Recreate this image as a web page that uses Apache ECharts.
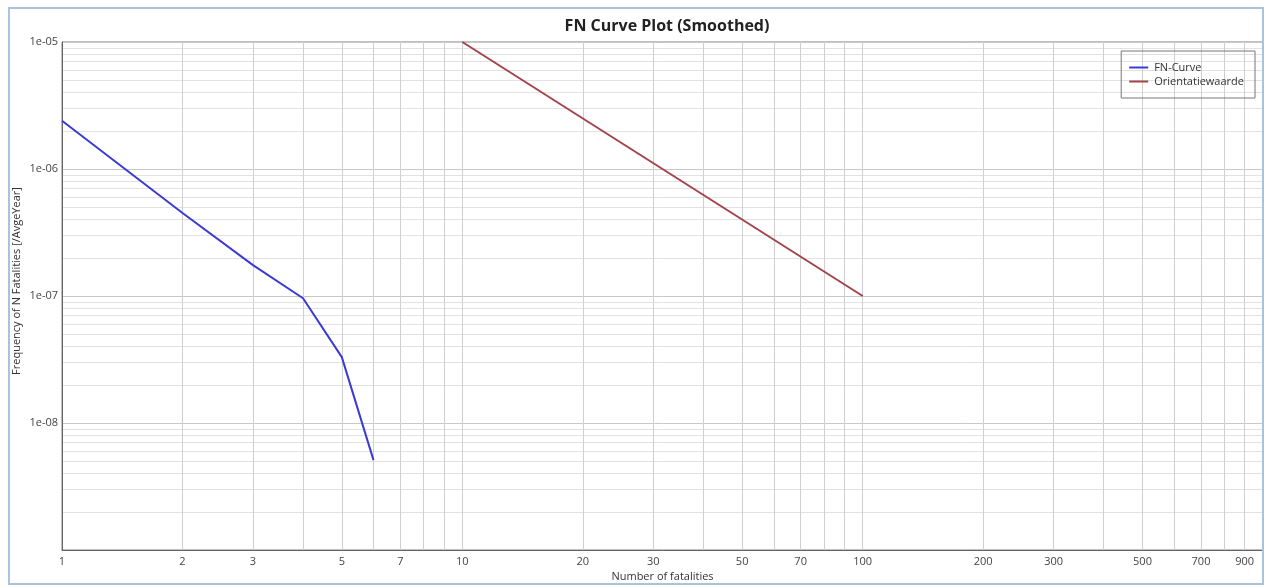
<!DOCTYPE html>
<html>
<head>
<meta charset="utf-8">
<script src="https://cdn.jsdelivr.net/npm/echarts@6/dist/echarts.min.js"></script>
<style>
  html, body { margin: 0; padding: 0; background: #fff; }
  #chart { width: 1266px; height: 588px; }
  .frame {
    position: absolute; left: 8px; top: 7px; width: 1256px; height: 578px;
    border: 2px solid #a9c3df; box-sizing: border-box; pointer-events: none;
  }
</style>
</head>
<body>
<div id="chart"></div>
<div class="frame"></div>
<script>
// data
const fnN = [1, 2, 3, 4, 5, 6]
const fnFreq = [2.4e-6, 4.5e-7, 1.75e-7, 9.6e-8, 3.3e-8, 5.1e-9]
const orientN = [10, 100]
const orientFreq = [1e-5, 1e-7]

// tick labels / grid positions
const xLabels = [1, 2, 3, 5, 7, 10, 20, 30, 50, 70, 100, 200, 300, 500, 700, 900]
const xGrid = [1, 2, 3, 4, 5, 6, 7, 8, 9, 10, 20, 30, 40, 50, 60, 70, 80, 90, 100, 200, 300, 400, 500, 600, 700, 800, 900, 1000]
const yLabels = [1e-8, 1e-7, 1e-6, 1e-5]
const yMinorGrid = []
for (const d of [1e-9, 1e-8, 1e-7, 1e-6]) {
  for (const m of [2, 3, 4, 5, 6, 7, 8, 9]) yMinorGrid.push(+(m * d).toPrecision(3))
}

const font = 'Open Sans, Noto Sans, sans-serif'
const chart = echarts.init(document.getElementById('chart'))

chart.setOption({
  animation: false,
  title: {
    text: 'FN Curve Plot (Smoothed)',
    left: 662,
    textAlign: 'center',
    top: 13,
    textStyle: { fontSize: 16, fontWeight: 'bold', color: '#222', fontFamily: font },
  },
  legend: {
    right: 11,
    top: 51,
    orient: 'vertical',
    itemWidth: 19,
    itemHeight: 2,
    itemGap: 3,
    padding: [11, 11, 11, 8],
    borderColor: '#777',
    borderWidth: 1,
    borderRadius: 0,
    icon: 'rect',
    textStyle: { fontSize: 11, color: '#333', fontFamily: font, padding: [0, 0, 0, 1] },
    data: ['FN-Curve', 'Orientatiewaarde'],
  },
  grid: {
    left: 62, right: 3, top: 42, bottom: 38,
    outerBoundsMode: 'none',
    show: true, borderColor: '#808080', borderWidth: 1,
  },
  xAxis: {
    type: 'log',
    logBase: 10,
    min: 1,
    max: 1000,
    name: 'Number of fatalities',
    nameLocation: 'middle',
    nameGap: 21,
    nameMoveOverlap: false,
    nameTextStyle: { fontSize: 11, color: '#333', fontFamily: font },
    axisLine: { lineStyle: { color: '#666' } },
    axisTick: { show: false, customValues: xGrid },
    axisLabel: {
      customValues: xLabels,
      fontSize: 11, color: '#444', fontFamily: font, margin: 6,
      formatter: (v) => String(Math.round(v)),
    },
    splitLine: { show: true, lineStyle: { color: '#cfcfcf', width: 1 } },
  },
  yAxis: [
    {
      type: 'log',
      logBase: 10,
      min: 1e-9,
      max: 1e-5,
      name: 'Frequency of N Fatalities [/AvgeYear]',
      nameLocation: 'middle',
      nameGap: 40,
      nameMoveOverlap: false,
      nameTextStyle: { fontSize: 11, color: '#333', fontFamily: font, padding: [0, 0, 0, 30] },
      axisLine: { lineStyle: { color: '#666' } },
      axisTick: { show: false, customValues: yMinorGrid },
      axisLabel: {
        customValues: yLabels,
        fontSize: 11, color: '#444', fontFamily: font, margin: 4,
        formatter: (v) => '1e-' + String(-Math.round(Math.log10(v))).padStart(2, '0'),
      },
      splitLine: { show: true, lineStyle: { color: '#e2e2e2', width: 1 } },
    },
    {
      type: 'log',
      logBase: 10,
      min: 1e-9,
      max: 1e-5,
      position: 'left',
      axisLine: { show: false },
      axisTick: { show: false },
      axisLabel: { show: false },
      splitLine: { show: true, lineStyle: { color: '#c8c8c8', width: 1 } },
    },
  ],
  series: [
    {
      name: 'FN-Curve',
      type: 'line',
      data: fnN.map((n, i) => [n, fnFreq[i]]),
      symbol: 'none',
      lineStyle: { color: '#3b3bd4', width: 2 },
      itemStyle: { color: '#3b3bd4' },
    },
    {
      name: 'Orientatiewaarde',
      type: 'line',
      data: orientN.map((n, i) => [n, orientFreq[i]]),
      symbol: 'none',
      lineStyle: { color: '#a3434c', width: 2 },
      itemStyle: { color: '#a3434c' },
    },
  ],
})
</script>
</body>
</html>
